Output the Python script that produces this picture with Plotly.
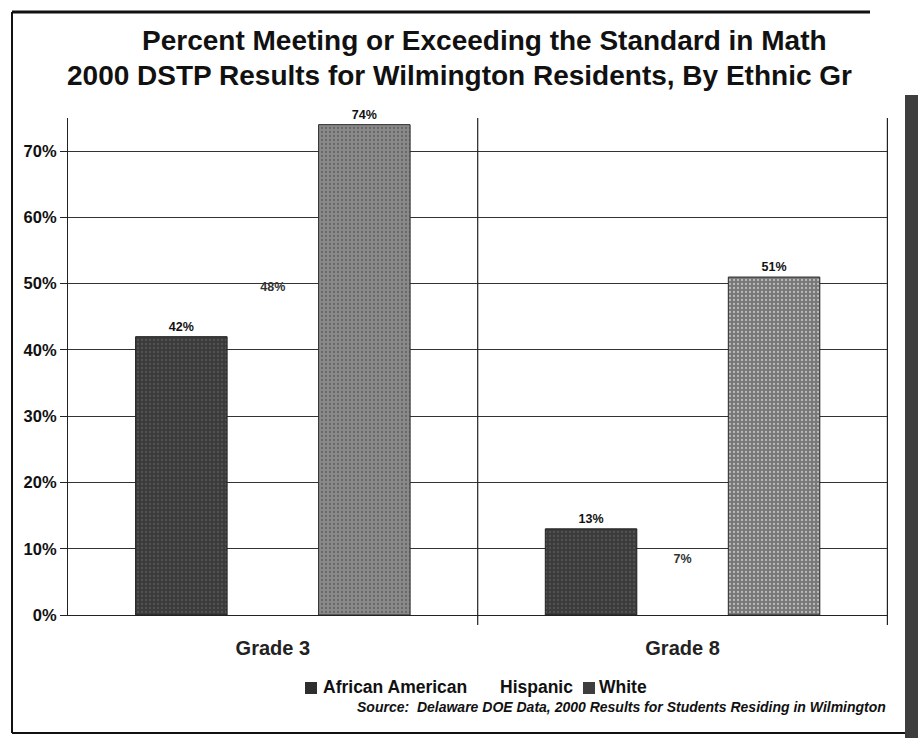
import plotly.graph_objects as go

grades = ["Grade 3", "Grade 8"]
african_american = [42, 13]
hispanic = [48, 7]
white = [74, 51]
y_ticks = [0, 10, 20, 30, 40, 50, 60, 70]
y_tick_labels = ["0%", "10%", "20%", "30%", "40%", "50%", "60%", "70%"]
legend_names = ["African American", "Hispanic", "White"]
legend_colors = ["#2e2e2e", "#ffffff", "#3e3e3e"]

W, H = 918, 738
L, R, T, B = 68, 30, 118, 123
pw, ph = W - L - R, H - T - B

def px(x):
    return (x - L) / pw

def py(y):
    return (H - B - y) / ph

FONT = "Liberation Sans, Arial, sans-serif"
lbl_font = dict(family=FONT, size=12.5, color="#111111", weight="bold")

fig = go.Figure()
fig.add_trace(go.Bar(
    name="African American", x=grades, y=african_american,
    text=[f"{v}%" for v in african_american], textposition="outside",
    textfont=lbl_font, cliponaxis=False,
    marker=dict(color="#3b3b3b", line=dict(color="#1e1e1e", width=1),
                pattern=dict(shape=".", fgcolor="#6a6a6a", bgcolor="#3b3b3b", size=4, solidity=0.25)),
))
fig.add_trace(go.Bar(
    name="Hispanic", x=grades, y=hispanic,
    text=[f"{v}%" for v in hispanic], textposition="outside",
    textfont=dict(family=FONT, size=12.5, color="#333333", weight="bold"), cliponaxis=False,
    marker=dict(color="rgba(255,255,255,0)", line=dict(width=0)),
))
fig.add_trace(go.Bar(
    name="White", x=grades, y=white,
    text=[f"{v}%" for v in white], textposition="outside",
    textfont=lbl_font, cliponaxis=False,
    marker=dict(color=["#8a8a8a", "#777777"], line=dict(color="#2a2a2a", width=1),
                pattern=dict(shape=".", fgcolor=["#5e5e5e", "#8c8c8c"], bgcolor=["#8a8a8a", "#777777"],
                             size=4, solidity=0.25)),
))

shapes = []
# category divider and right border
for xv in [0.5, 1.5]:
    shapes.append(dict(type="line", xref="x", yref="paper", x0=xv, x1=xv, y0=-0.02, y1=1.0,
                       line=dict(color="#222222", width=1.2)))
# figure frame
shapes.append(dict(type="line", xref="paper", yref="paper", x0=px(12), x1=px(870), y0=py(12), y1=py(12),
                   line=dict(color="#111111", width=3)))
shapes.append(dict(type="line", xref="paper", yref="paper", x0=px(12), x1=px(12), y0=py(12), y1=py(733),
                   line=dict(color="#111111", width=2)))
shapes.append(dict(type="line", xref="paper", yref="paper", x0=px(12), x1=px(905), y0=py(733), y1=py(733),
                   line=dict(color="#111111", width=2)))
shapes.append(dict(type="rect", xref="paper", yref="paper", x0=px(905), x1=px(920), y0=py(95), y1=py(740),
                   fillcolor="#3e3e3e", line=dict(width=0)))

# legend (manual, to match the tight spacing of the original)
legend_sq_x = [305, 486, 583]
legend_txt_x = [321, 498, 597]
for sx, col in zip(legend_sq_x, legend_colors):
    shapes.append(dict(type="rect", xref="paper", yref="paper", x0=px(sx), x1=px(sx + 12),
                       y0=py(694), y1=py(682), fillcolor=col, line=dict(width=0)))

annotations = [
    dict(text="Percent Meeting or Exceeding the Standard in Math", xref="paper", yref="paper",
         x=px(484), y=py(40), xanchor="center", yanchor="middle", showarrow=False,
         font=dict(family=FONT, size=28, color="#111111", weight="bold")),
    dict(text="2000 DSTP Results for Wilmington Residents, By Ethnic Gr", xref="paper", yref="paper",
         x=px(459), y=py(76), xanchor="center", yanchor="middle", showarrow=False,
         font=dict(family=FONT, size=28, color="#111111", weight="bold")),
    dict(text="Source:  Delaware DOE Data, 2000 Results for Students Residing in Wilmington",
         xref="paper", yref="paper", x=px(355), y=py(707), xanchor="left", yanchor="middle",
         showarrow=False, font=dict(family=FONT, size=14, color="#111111", weight="bold", style="italic")),
]
for tx, name in zip(legend_txt_x, legend_names):
    annotations.append(dict(text=name, xref="paper", yref="paper", x=px(tx), y=py(687),
                            xanchor="left", yanchor="middle", showarrow=False,
                            font=dict(family=FONT, size=17.5, color="#111111", weight="bold")))

fig.update_layout(
    width=W, height=H,
    margin=dict(l=L, r=R, t=T, b=B),
    paper_bgcolor="white", plot_bgcolor="white",
    barmode="group", bargap=0.33, bargroupgap=0,
    font=dict(family=FONT, color="#111111"),
    showlegend=False,
    shapes=shapes,
    annotations=annotations,
    xaxis=dict(type="category", showgrid=False, showline=True, linecolor="#222222", linewidth=1.2,
               ticks="", tickfont=dict(family=FONT, size=20, color="#222222", weight="bold"),
               ticklabelstandoff=15),
    yaxis=dict(range=[0, 75], tickvals=y_ticks, ticktext=y_tick_labels,
               showgrid=True, gridcolor="#333333", gridwidth=1,
               showline=True, linecolor="#222222", linewidth=1.2,
               ticks="outside", ticklen=7, tickcolor="#222222",
               tickfont=dict(family=FONT, size=16.5, color="#111111", weight="bold"),
               zeroline=False),
)

fig.write_html("out.html")
